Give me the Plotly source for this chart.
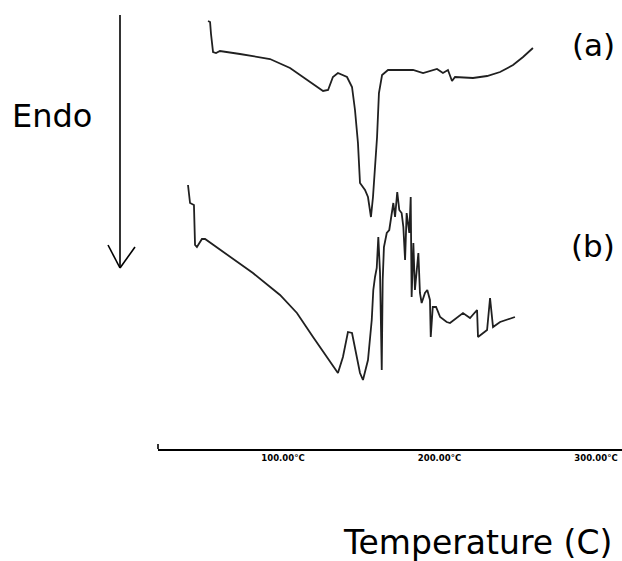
import plotly.graph_objects as go

# Curve (a) - temperature (°C) and heat flow (arbitrary units)
temp_a = [52.1, 53.4, 54.0, 55.3, 57.2, 59.7, 72.5, 91.7, 104.5, 115.3, 125.6, 128.8,
          131.9, 135.1, 140.9, 144.1, 146.0, 147.9, 149.2, 152.4, 154.3, 156.2, 157.5,
          160.1, 161.3, 163.3, 167.1, 183.1, 189.5, 198.4, 202.2, 205.4, 208.0, 209.9,
          221.4, 230.4, 238.7, 247.0, 253.4, 259.7]
heat_a = [428, 427, 415, 397, 396, 398, 395, 390, 381, 369, 358, 359,
          372, 376, 372, 362, 339, 306, 266, 259, 252, 232, 252,
          312, 356, 374, 379, 379, 376, 380, 376, 379, 368, 372,
          371, 373, 377, 384, 392, 401]

# Curve (b)
temp_b = [39.3, 40.6, 43.1, 43.8, 45.0, 48.2, 50.2, 66.1, 80.8, 98.1, 108.9, 119.2,
          128.1, 135.1, 138.3, 141.5, 144.1, 147.3, 149.2, 151.1, 154.3, 156.7, 157.7,
          158.8, 159.9, 160.9, 162.0, 163.1, 163.7, 164.5, 166.3, 167.9, 169.5, 170.5,
          171.6, 173.0, 174.3, 175.8, 176.9, 178.0, 179.0, 180.7, 181.6, 182.2, 183.3,
          184.3, 186.5, 187.5, 188.6, 190.7, 192.2, 193.9, 194.4, 195.7, 197.8, 200.4,
          204.6, 206.7, 215.0, 219.5, 224.0, 224.6, 230.4, 232.3, 234.2, 238.7, 248.2]
heat_b = [264, 246, 244, 204, 202, 210, 210, 192, 176, 154, 136, 112,
          92, 76, 92, 117, 116, 92, 76, 69, 89, 129, 159,
          172, 181, 212, 176, 79, 169, 202, 216, 219, 236, 246,
          232, 257, 239, 236, 222, 189, 236, 216, 252, 152, 206,
          159, 196, 156, 146, 156, 159, 149, 112, 142, 142, 132,
          127, 126, 136, 131, 139, 112, 119, 151, 122, 127, 132]

tick_vals = [100, 200, 300]
tick_text = ["<b>100.00°C</b>", "<b>200.00°C</b>", "<b>300.00°C</b>"]

fig = go.Figure()
for xs, ys in [(temp_a, heat_a), (temp_b, heat_b)]:
    fig.add_trace(go.Scatter(x=xs, y=ys, mode="lines",
                             line=dict(color="#202020", width=1.8),
                             showlegend=False, hoverinfo="skip"))

fig.update_layout(
    width=622, height=561,
    margin=dict(l=0, r=0, t=0, b=0),
    paper_bgcolor="white", plot_bgcolor="white",
    xaxis=dict(domain=[158/622, 1], range=[20.13, 316.61], showgrid=False,
               zeroline=False, showline=True, linecolor="black", linewidth=2,
               ticks="", tickvals=tick_vals, ticktext=tick_text,
               tickfont=dict(family="DejaVu Sans", size=8.5, color="black")),
    yaxis=dict(domain=[112/561, 1], range=[0, 449], visible=False),
    font=dict(family="DejaVu Sans", color="black"),
)

def px(x):
    return x / 622

def py(y):
    return (561 - y) / 561

annots = [
    ("Endo", 52, 116, 32),
    ("(a)", 593, 45, 31),
    ("(b)", 593, 246, 31),
    ("Temperature (C)", 477, 542, 33),
]
for text, x, y, s in annots:
    fig.add_annotation(text=text, x=px(x), y=py(y), xref="paper", yref="paper",
                       showarrow=False, xanchor="center", yanchor="middle",
                       font=dict(family="DejaVu Sans", size=s, color="black"))

# Endo arrow (open arrowhead) and the small tick at the axis start
for (x0, y0, x1, y1) in [(120, 15, 120, 268), (108, 245, 120, 268), (135, 247, 120, 268),
                         (158, 444, 158, 449)]:
    fig.add_shape(type="line", xref="paper", yref="paper",
                  x0=px(x0), y0=py(y0), x1=px(x1), y1=py(y1),
                  line=dict(color="black", width=1.6))

fig.write_html("out.html")
